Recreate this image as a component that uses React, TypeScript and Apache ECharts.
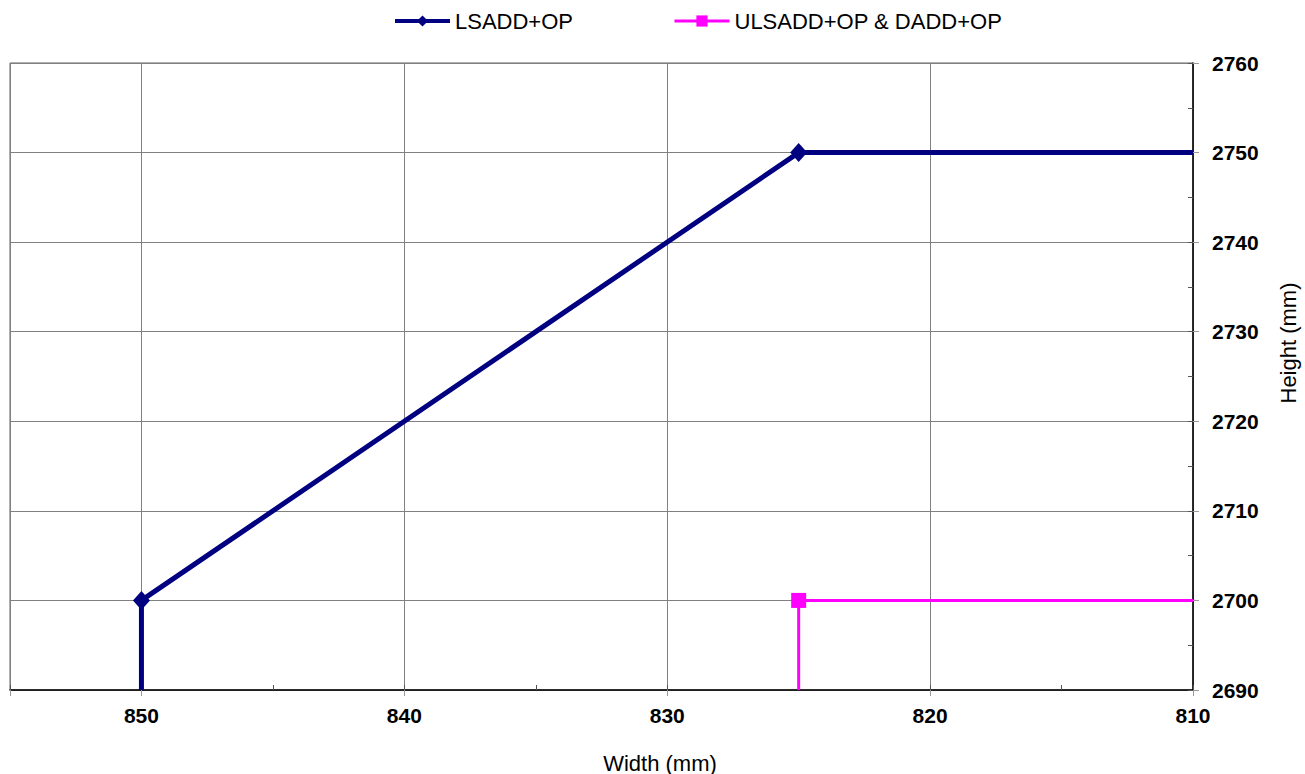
import React, { useEffect, useRef } from "react";
import * as echarts from "echarts";

const seriesNames = ["LSADD+OP", "ULSADD+OP & DADD+OP"];
const lsaddWidth = [850, 850, 825, 810];
const lsaddHeight = [2690, 2700, 2750, 2750];
const lsaddMarker = [false, true, true, false];
const ulsaddWidth = [825, 825, 810];
const ulsaddHeight = [2690, 2700, 2700];
const ulsaddMarker = [false, true, false];
const xMin = 810;
const xMax = 855;
const yMin = 2690;
const yMax = 2760;
const xTitle = "Width (mm)";
const yTitle = "Height (mm)";

const FONT = 'Arial, "Liberation Sans", sans-serif';

function build(xs: number[], ys: number[], marks: boolean[]) {
  return xs.map((x, i) => ({
    value: [x, ys[i]],
    symbol: marks[i] ? undefined : "none",
  }));
}

export default function App() {
  const ref = useRef<HTMLDivElement>(null);
  useEffect(() => {
    const chart = echarts.init(ref.current!, null, { renderer: "svg" });
    const gridColor = "#808080";
    chart.setOption({
      animation: false,
      backgroundColor: "#ffffff",
      textStyle: { fontFamily: FONT },
      legend: {
        top: 5,
        left: 388,
        itemWidth: 55,
        itemHeight: 14,
        itemGap: 100,
        textStyle: { fontSize: 22, color: "#000", fontFamily: FONT },
        data: [
          { name: seriesNames[0], lineStyle: { width: 4 } },
          { name: seriesNames[1], lineStyle: { width: 3 } },
        ],
      },
      grid: {
        left: 10,
        right: 112,
        top: 63,
        bottom: 84,
        show: true,
        borderColor: "#606060",
        borderWidth: 1,
      },
      xAxis: [
        {
          type: "value",
          inverse: true,
          min: xMin,
          max: xMax,
          interval: 10,
          position: "bottom",
          axisLine: { show: true, lineStyle: { color: "#000", width: 1.5 } },
          axisTick: { show: true, inside: false, length: 6, lineStyle: { color: "#999" } },
          axisLabel: {
            margin: 15,
            fontSize: 21,
            fontWeight: "bold",
            color: "#000",
            fontFamily: FONT,
            formatter: (v: number) => (v % 10 === 0 ? String(v) : ""),
          },
          splitLine: { show: true, lineStyle: { color: gridColor, width: 1 } },
        },
        {
          type: "value",
          inverse: true,
          min: xMin,
          max: xMax,
          interval: 5,
          position: "bottom",
          axisLine: { show: false },
          axisTick: { show: true, inside: true, length: 5, lineStyle: { color: "#555" } },
          axisLabel: { show: false },
          splitLine: { show: false },
        },
      ],
      yAxis: [
        {
          type: "value",
          min: yMin,
          max: yMax,
          interval: 10,
          position: "right",
          axisLine: { show: true, lineStyle: { color: "#000", width: 1.5 } },
          axisTick: { show: true, inside: false, length: 6, lineStyle: { color: "#999" } },
          axisLabel: {
            margin: 19,
            fontSize: 21,
            fontWeight: "bold",
            color: "#000",
            fontFamily: FONT,
            formatter: (v: number) => String(v),
          },
          splitLine: { show: true, lineStyle: { color: gridColor, width: 1 } },
        },
        {
          type: "value",
          min: yMin,
          max: yMax,
          interval: 5,
          position: "right",
          axisLine: { show: false },
          axisTick: { show: true, inside: true, length: 5, lineStyle: { color: "#555" } },
          axisLabel: { show: false },
          splitLine: { show: false },
        },
      ],
      graphic: [
        {
          type: "text",
          x: 660,
          y: 763,
          style: {
            text: xTitle,
            fontSize: 22,
            fontFamily: FONT,
            fill: "#000",
            align: "center",
            verticalAlign: "middle",
          },
        },
        {
          type: "text",
          x: 1288,
          y: 343,
          rotation: Math.PI / 2,
          style: {
            text: yTitle,
            fontSize: 22,
            fontFamily: FONT,
            fill: "#000",
            align: "center",
            verticalAlign: "middle",
          },
        },
      ],
      series: [
        {
          name: seriesNames[0],
          type: "line",
          xAxisIndex: 0,
          yAxisIndex: 0,
          symbol: "diamond",
          symbolSize: [17, 19],
          showAllSymbol: true,
          color: "#000080",
          lineStyle: { color: "#000080", width: 5 },
          itemStyle: { color: "#000080" },
          data: build(lsaddWidth, lsaddHeight, lsaddMarker),
          z: 3,
        },
        {
          name: seriesNames[1],
          type: "line",
          xAxisIndex: 0,
          yAxisIndex: 0,
          symbol: "rect",
          symbolSize: 15,
          showAllSymbol: true,
          color: "#FF00FF",
          lineStyle: { color: "#FF00FF", width: 3 },
          itemStyle: { color: "#FF00FF" },
          data: build(ulsaddWidth, ulsaddHeight, ulsaddMarker),
          z: 3,
        },
      ],
    });
    return () => chart.dispose();
  }, []);
  return (
    <div
      ref={ref}
      style={{ position: "fixed", left: 0, top: 0, width: 1305, height: 774 }}
    />
  );
}
